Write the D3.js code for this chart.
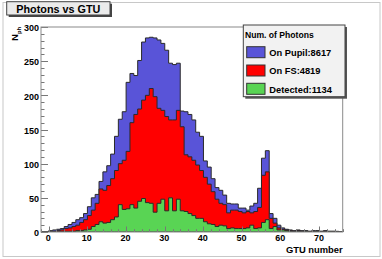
<!DOCTYPE html>
<html><head><meta charset="utf-8">
<script src="https://cdn.jsdelivr.net/npm/d3@7"></script>
<style>
body{margin:0;background:#fff}
svg{display:block;font-family:"Liberation Sans",Arial,Helvetica,sans-serif;font-weight:bold}
</style>
</head><body>
<svg id="c" width="382" height="259"></svg>
<script>
// ---- data (GTU bins of width 1, from -2 to 76) ----
const binStart = -2;
const binEnd = 76;
const xTicks = [0, 10, 20, 30, 40, 50, 60, 70];
const yTicks = [0, 50, 100, 150, 200, 250, 300];
const titleText = "Photons vs GTU";
const xTitle = "GTU number";
const legendTitle = "Num. of Photons";
const seriesNames = ["On Pupil:8617", "On FS:4819", "Detected:1134"];

const pupil = [0, 0, 2, 3, 4, 5, 8, 11, 14, 18, 21, 27,
  37, 50, 55, 74, 88, 97, 114, 140, 165, 176,
  219, 232, 229, 251, 278, 284, 285, 284, 281, 276,
  266, 247, 245, 247, 177, 176, 172, 164, 146, 140,
  104, 95, 78, 65, 61, 54, 42, 41, 41, 35,
  35, 32, 38, 42, 64, 108, 119, 27, 20, 10,
  6, 4, 3, 2, 3, 2, 2, 1, 2, 2, 1, 2, 1, 1, 1, 0];
const onFS = [0, 0, 0, 1, 2, 3, 5, 6, 8, 10, 14, 18,
  24, 32, 42, 63, 61, 68, 78, 90, 100, 105,
  118, 160, 172, 180, 193, 200, 210, 198, 181, 178,
  169, 164, 164, 178, 154, 113, 110, 105, 98, 90,
  80, 70, 59, 48, 42, 40, 28, 32, 32, 30,
  28, 30, 28, 30, 36, 83, 88, 20, 13, 6,
  4, 3, 2, 1, 2, 1, 1, 1, 1, 1, 1, 1, 0, 1, 0, 0];
const detected = [0, 0, 0, 0, 0, 0, 1, 1, 1, 2, 2, 3,
  4, 8, 11, 15, 13, 14, 18, 22, 40, 33,
  34, 40, 35, 45, 49, 43, 42, 29, 42, 48,
  31, 50, 31, 48, 31, 30, 27, 24, 20, 20,
  15, 12, 11, 8, 10, 9, 5, 6, 5, 5,
  5, 6, 10, 5, 6, 14, 18, 5, 8, 3,
  3, 2, 1, 0, 1, 0, 1, 0, 0, 1, 0, 0, 1, 0, 0, 0];

const colors = ["#5954d8", "#ff0000", "#59d454"];

// ---- layout ----
const svg = d3.select("#c");
const F = {l: 41, r: 342.7, t: 27, b: 232};
const x = d3.scaleLinear().domain([binStart, binEnd]).range([F.l, F.r]);
const y = d3.scaleLinear().domain([0, 300]).range([F.b, F.t]);

// canvas border
svg.append("rect").attr("x", 3).attr("y", 2.5).attr("width", 377).attr("height", 254)
  .attr("fill", "none").attr("stroke", "#c8c8c8").attr("stroke-width", 1);

svg.append("defs").append("clipPath").attr("id", "fr")
  .append("rect").attr("x", F.l).attr("y", F.t - 1).attr("width", F.r - F.l).attr("height", F.b - F.t + 1);

function pts(arr) {
  const p = arr.map((v, i) => ({g: binStart + i, v}));
  p.push({g: binEnd, v: arr[arr.length - 1]});
  return p;
}
const area = d3.area().curve(d3.curveStepAfter)
  .x(d => x(d.g)).y0(y(0)).y1(d => y(d.v));

const gH = svg.append("g").attr("clip-path", "url(#fr)");
function drawHist(arr, col) {
  gH.append("path").datum(pts(arr)).attr("d", area)
    .attr("fill", col).attr("stroke", "#2a2a2a").attr("stroke-width", 1)
    .attr("stroke-linejoin", "miter");
}

drawHist(pupil, colors[0]);

// axes ticks (drawn after first histogram)
const gA = svg.append("g").attr("stroke", "#777").attr("stroke-width", 1);
d3.range(0, 301, 10).forEach(v => {
  const major = v % 50 === 0;
  gA.append("line").attr("x1", F.l).attr("x2", F.l + (major ? 7 : 3.5))
    .attr("y1", Math.round(y(v)) + 0.5).attr("y2", Math.round(y(v)) + 0.5);
});
d3.range(-2, 77, 2).forEach(v => {
  const major = v % 10 === 0;
  const xx = Math.round(x(v)) + 0.5;
  gA.append("line").attr("x1", xx).attr("x2", xx)
    .attr("y1", F.b).attr("y2", F.b - (major ? 5.5 : 2.8));
});

drawHist(onFS, colors[1]);
drawHist(detected, colors[2]);

// frame
svg.append("rect").attr("x", F.l).attr("y", F.t).attr("width", F.r - F.l).attr("height", F.b - F.t)
  .attr("fill", "none").attr("stroke", "#8a8a8a").attr("stroke-width", 1);

// tick labels
svg.append("g").selectAll("text").data(yTicks).join("text")
  .attr("x", 39).attr("y", d => y(d) + 4.2)
  .attr("text-anchor", "end").attr("font-size", 9).attr("fill", "#000")
  .text(d => d);
svg.append("g").selectAll("text").data(xTicks).join("text")
  .attr("x", d => x(d) - 0.6).attr("y", 241)
  .attr("text-anchor", "middle").attr("font-size", 9).attr("fill", "#000")
  .text(d => d);

// axis titles
svg.append("text").attr("x", F.r).attr("y", 253).attr("text-anchor", "end")
  .attr("font-size", 9.4).text(xTitle);
const yl = svg.append("text").attr("transform", "translate(18.3,27) rotate(-90)")
  .attr("text-anchor", "end").attr("font-size", 9.2);
yl.append("tspan").text("N");
yl.append("tspan").attr("font-size", 5.8).attr("dy", 2.5).text("ph");

// title box
svg.append("rect").attr("x", 8.7).attr("y", 3.7).attr("width", 103.3).attr("height", 13.3).attr("fill", "#444");
svg.append("rect").attr("x", 6.7).attr("y", 1.7).attr("width", 103.3).attr("height", 13.3)
  .attr("fill", "#ebebeb").attr("stroke", "#444").attr("stroke-width", 1);
svg.append("text").attr("x", 58.3).attr("y", 12.9).attr("text-anchor", "middle")
  .attr("font-size", 10.8).text(titleText);

// legend
const L = {x: 243.3, y: 25, w: 101.7, h: 71.7};
svg.append("rect").attr("x", L.x + 2).attr("y", L.y + 2).attr("width", L.w).attr("height", L.h).attr("fill", "#555");
svg.append("rect").attr("x", L.x).attr("y", L.y).attr("width", L.w).attr("height", L.h)
  .attr("fill", "#f2f2f2").attr("stroke", "#444").attr("stroke-width", 1);
svg.append("text").attr("x", 245).attr("y", 38).attr("font-size", 8.6).text(legendTitle);
const entY = [46.7, 65, 83.3];
const txtY = [55.8, 74.2, 92.6];
seriesNames.forEach((s, i) => {
  svg.append("rect").attr("x", 246.7).attr("y", entY[i]).attr("width", 18.3).attr("height", 11)
    .attr("fill", colors[i]).attr("stroke", "#333").attr("stroke-width", 1);
  svg.append("text").attr("x", 269.3).attr("y", txtY[i]).attr("font-size", 9.3).text(s);
});
</script>
</body></html>
